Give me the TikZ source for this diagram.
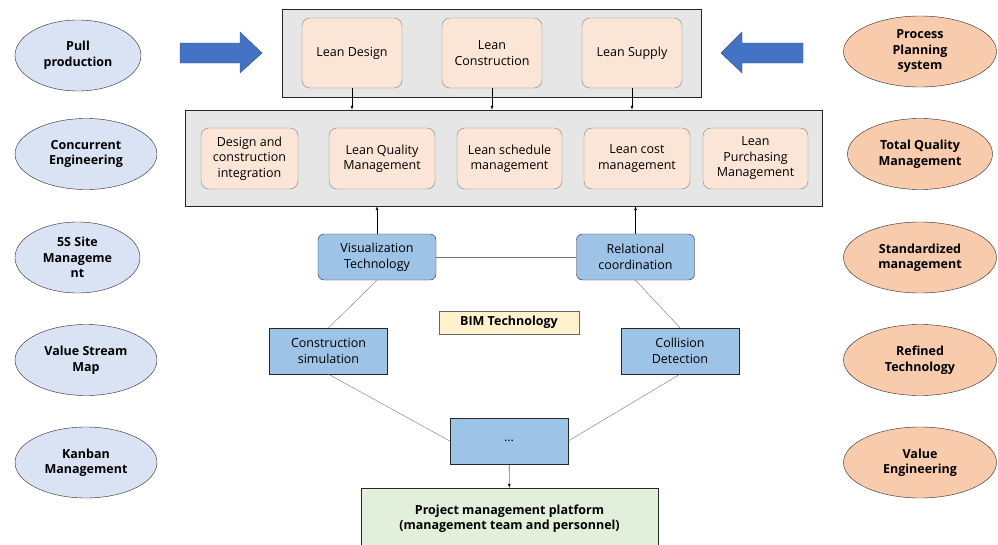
\documentclass[tikz,border=0pt]{standalone}
\usepackage{fontspec}
\setmainfont{Open Sans}
\usepackage{tikz}
\usetikzlibrary{shapes.geometric}

\definecolor{ovalblue}{HTML}{DAE3F3}
\definecolor{ovalorange}{HTML}{F8CBAD}
\definecolor{panelgray}{HTML}{E6E6E6}
\definecolor{leanpink}{HTML}{FBE5D6}
\definecolor{bimblue}{HTML}{9DC3E6}
\definecolor{bimyellow}{HTML}{FFF2CC}
\definecolor{platgreen}{HTML}{E2EFDA}
\definecolor{arrowblue}{HTML}{4472C4}
\definecolor{arrowedge}{HTML}{2F528F}

\tikzset{
	oval/.style={draw=black!85, ellipse, align=center, inner sep=0pt, minimum height=71pt, font=\fontsize{12.5}{15.5}\selectfont\bfseries},
	panel/.style={draw=black!85, fill=panelgray, inner sep=0pt},
	leanbox/.style={draw=black!50, fill=leanpink, rounded corners=8pt, align=center, inner sep=0pt, minimum height=61pt},
	techbox/.style={draw=black!85, fill=bimblue, align=center, inner sep=0pt, minimum width=118pt, minimum height=46pt},
	link/.style={draw=black!55, thin}
}

\begin{document}
\begin{tikzpicture}[x=1pt, y=-1pt, >=latex, font=\fontsize{12.5}{15.5}\selectfont]
						\clip (0,0) rectangle (998,544);
						% ovals on both sides
						\foreach \y/\w/\txt [count=\i] in {55.5/126/{Pull\\production}, 154/142/{Concurrent\\Engineering}, 257.5/125/{5S Site\\Manageme\\nt}, 360/142/{Value Stream\\Map}, 462.5/142/{Kanban\\Management}}
						    \node[oval, fill=ovalblue, minimum width=\w pt] (left\i) at ({15+\w/2},\y) {\txt};
						\foreach \y/\w/\txt [count=\i] in {51.5/153/{Process\\Planning\\system}, 154/145/{Total Quality\\Management}, 257.5/153/{Standardized\\management}, 360/153/{Refined\\Technology}, 462.5/153/{Value\\Engineering}}
						    \node[oval, fill=ovalorange, minimum width=\w pt] (right\i) at (920,\y) {\txt};
						% big arrows
						\draw[fill=arrowblue, draw=arrowedge] (180,43) -- (240,43) -- (240,32) -- (262,53) -- (240,73) -- (240,63) -- (180,63) -- cycle;
						\draw[fill=arrowblue, draw=arrowedge] (803,43) -- (742,43) -- (742,32) -- (721,53) -- (742,73) -- (742,63) -- (803,63) -- cycle;
						% lean panels
						\node[panel, minimum width=419pt, minimum height=88pt] (toppanel) at (491.5,53) {};
						\node[panel, minimum width=637pt, minimum height=96pt] (midpanel) at (503.5,158) {};
						\node[leanbox, minimum width=100pt, minimum height=70pt] (design) at (352,53) {Lean Design};
						\node[leanbox, minimum width=100pt, minimum height=70pt] (construction) at (492,53) {Lean\\Construction};
						\node[leanbox, minimum width=100pt, minimum height=70pt] (supply) at (632,53) {Lean Supply};
						\node[leanbox, minimum width=97pt] (integration) at (249.5,158.5) {Design and\\construction\\integration};
						\node[leanbox, minimum width=106pt] (quality) at (382,158.5) {Lean Quality\\Management};
						\node[leanbox, minimum width=105pt] (schedule) at (509.5,158.5) {Lean schedule\\management};
						\node[leanbox, minimum width=106pt] (cost) at (637,158.5) {Lean cost\\management};
						\node[leanbox, minimum width=105pt] (purchasing) at (755.5,158.5) {Lean\\Purchasing\\Management};
						\foreach \n in {design, construction, supply}
						    \draw[->] (\n) -- (\n |- midpanel.north);
						% BIM technologies
						\node[techbox, rounded corners=6pt] (visual) at (377,257) {Visualization\\Technology};
						\node[techbox, rounded corners=6pt] (relation) at (635.5,257) {Relational\\coordination};
						\node[techbox] (simulation) at (328.5,351) {Construction\\simulation};
						\node[techbox] (collision) at (680,351) {Collision\\Detection};
						\node[techbox] (dots) at (509,441) {...};
						\node[draw=black!60, fill=bimyellow, minimum width=140pt, minimum height=23pt, inner sep=0pt, font=\fontsize{12.5}{15.5}\selectfont\bfseries] (bim) at (509,322.5) {BIM Technology};
						\foreach \n in {visual, relation}
						    \draw[->] (\n) -- (\n |- midpanel.south);
						\draw[link] (visual) -- (relation);
						\draw[link] (visual.south) -- (simulation.north);
						\draw[link] (relation.south) -- (collision.north);
						\draw[link] (simulation.south) -- (dots.west);
						\draw[link] (collision.south) -- (dots.east);
						% platform
						\node[draw=black!85, fill=platgreen, minimum width=297pt, minimum height=61pt, inner sep=0pt, align=center, font=\fontsize{12.5}{15.5}\selectfont\bfseries] (platform) at (509.5,518.5) {Project management platform\\(management team and personnel)};
						\draw[->] (dots) -- (platform);
						\end{tikzpicture}
\end{document}
